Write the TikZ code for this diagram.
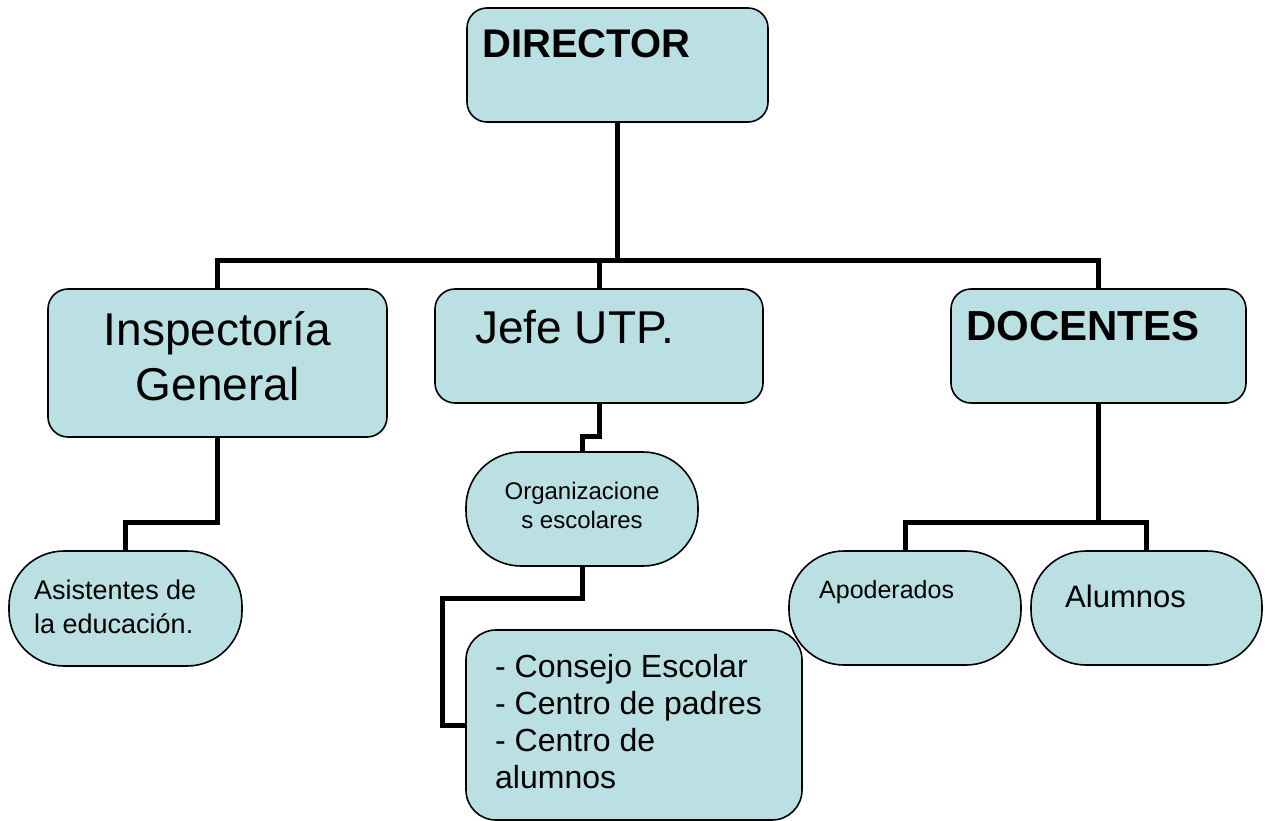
\documentclass[tikz,border=0pt]{standalone}
\usepackage{fontspec}
\setmainfont{Liberation Sans}
\usetikzlibrary{positioning}
\definecolor{cajaazul}{RGB}{187,224,227}
\newcommand{\tam}[2]{\fontsize{#1}{#2}\selectfont}

\begin{document}
\begin{tikzpicture}[x=1pt,y=-1pt,
  caja/.style={draw=black,line width=1.6pt,fill=cajaazul,rounded corners=#1,inner sep=0pt},
  caja/.default=20pt,
  linea/.style={line width=5pt,line join=miter},
  texto/.style={inner sep=0pt,anchor=base west,align=left}]
\useasboundingbox (0,0) rectangle (1266,821);
\node[caja,minimum width=301pt,minimum height=114pt] (dir) at (617.5,65) {};
\node[caja,minimum width=339pt,minimum height=148pt] (insp) at (217.5,363) {};
\node[caja,minimum width=328pt,minimum height=114pt] (jefe) at (599,346) {};
\node[caja,minimum width=295pt,minimum height=114pt] (doc) at (1098.5,346) {};
\node[caja=55pt,minimum width=232pt,minimum height=114pt] (org) at (582,509) {};
\node[caja=55pt,minimum width=233pt,minimum height=115pt] (asis) at (125.5,608.5) {};
\node[caja=30pt,minimum width=336pt,minimum height=190pt] (cons) at (634,725) {};
\node[caja=55pt,minimum width=232pt,minimum height=114pt] (apod) at (905,608) {};
\node[caja=55pt,minimum width=231pt,minimum height=114pt] (alum) at (1146.5,608) {};

\node[texto,font=\tam{40}{48}\bfseries] (tdir) at (482,58) {DIRECTOR};
\node[texto,anchor=base,align=center,font=\tam{46}{55}] (tinsp) at (217.5,400) {Inspectoría\\General};
\node[texto,font=\tam{46}{55}] (tjefe) at (475,343) {Jefe UTP.};
\node[texto,font=\tam{42}{50}\bfseries] (tdoc) at (966,340) {DOCENTES};
\node[texto,anchor=base,align=center,font=\tam{24}{29}] (torg) at (582,528) {Organizacione\\s escolares};
\node[texto,font=\tam{27}{34}] (tasis) at (34,633) {Asistentes de\\la educación.};
\node[texto,font=\tam{25}{30}] (tapod) at (819,598) {Apoderados};
\node[texto,font=\tam{31}{37}] (talum) at (1065,607) {Alumnos};
\node[texto,font=\tam{32}{37}] (tcons) at (495,788) {- Consejo Escolar\\- Centro de padres\\- Centro de\\alumnos};

\coordinate (bus) at (617.5,260);
\draw[linea] (dir.south) -- (bus);
\draw[linea] (insp.north) |- (doc.north |- bus) -- (doc.north);
\draw[linea] (jefe.north) -- (jefe.north |- bus);
\draw[linea] (insp.south) -- ++(0,85) -| (asis.north);
\draw[linea] (jefe.south) -- ++(0,33) -| (org.north);
\draw[linea] (org.south) -- ++(0,32) -- ++(-140,0) |- (cons.west);
\draw[linea] (doc.south) -- ++(0,119) coordinate (bajodoc);
\draw[linea] (apod.north) |- (bajodoc) -| (alum.north);
\end{tikzpicture}
\end{document}
